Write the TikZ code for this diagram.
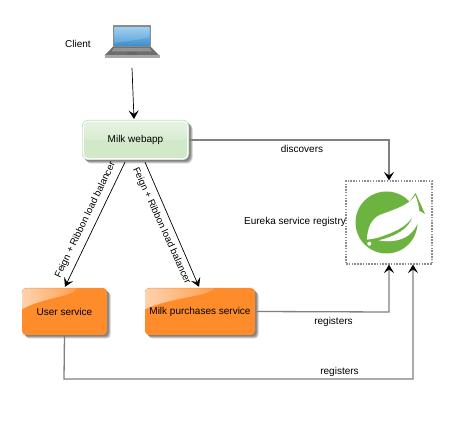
\documentclass[tikz,border=0pt]{standalone}
\usepackage{fontspec}
\setmainfont{Liberation Sans}
\usetikzlibrary{arrows.meta,calc}
\definecolor{edgegray}{HTML}{808080}
\definecolor{okline}{HTML}{C4E0BC}
\definecolor{oktop}{HTML}{E6F2E1}
\definecolor{okmid}{HTML}{D9ECD2}
\definecolor{oklow}{HTML}{D1E8C9}
\definecolor{orangefill}{HTML}{FF8C2A}
\definecolor{glosslight}{HTML}{FFD2AE}
\definecolor{glossend}{HTML}{FFA050}
\definecolor{springgreen}{HTML}{6DB33F}
\definecolor{lapgray}{HTML}{8C8C8C}
\definecolor{lapdark}{HTML}{6E6E6E}
\definecolor{scrtop}{HTML}{8CC8EE}
\definecolor{scrlow}{HTML}{3C8DCE}
\tikzset{
  lbl/.style={font=\fontsize{10}{12}\selectfont,text=black,inner sep=0pt},
  rotlbl/.style={font=\fontsize{9.7}{12}\selectfont,text=black,inner sep=0pt},
  dark/.style={draw=black,line width=0.7pt,-{Stealth[length=8.5pt,width=10pt,inset=3.5pt]}},
  grayconn/.style={draw=edgegray,line width=1.3pt,-{Stealth[length=8.5pt,width=10pt,inset=3.5pt,black]}},
  webbox/.style={minimum width=107pt,minimum height=40pt,rounded corners=6pt,inner sep=0pt,font=\fontsize{10}{12}\selectfont},
  orbox/.style={minimum height=47pt,rounded corners=4pt,inner sep=0pt,font=\fontsize{10}{12}\selectfont},
  regbox/.style={draw=black!45,dash pattern=on 1.5pt off 1.3pt,line width=1.1pt,minimum width=86pt,minimum height=83pt,inner sep=0pt},
  softshadow/.style={fill=black,fill opacity=.2,draw=none},
}
\begin{document}
\begin{tikzpicture}[x=1pt,y=-1pt]
\useasboundingbox (0,0) rectangle (469,435);
% laptop
\fill[lapgray] (112.7,25.5) rectangle (150.9,47);
\shade[top color=scrtop,bottom color=scrlow] (114.3,27.3) rectangle (149.3,46);
\fill[white,opacity=.15] (114.3,27.3) -- (149.3,27.3) -- (149.3,37) .. controls (135,41) and (125,41) .. (114.3,43) -- cycle;
\fill[lapdark] (112.7,47) -- (150.9,47) -- (159.5,55.5) -- (104.5,55.5) -- cycle;
\fill[black!35] (104.5,55.5) rectangle (159.5,58);
\fill[black!42] (114,48) -- (149.5,48) -- (152,51.5) -- (111.5,51.5) -- cycle;
\fill[black!60] (126.7,52) rectangle (136.7,55);
\coordinate (client) at (132,68);
\node[lbl] (clientlbl) at (78,44) {Client};
% shadows
\foreach \d in {1.5,2.5,3.5}{
  \fill[softshadow,rounded corners=6pt] (82+\d,120+\d) rectangle (189+\d,160+\d);
  \fill[softshadow,rounded corners=4pt] (22+\d,288+\d) rectangle (107+\d,335+\d);
  \fill[softshadow,rounded corners=4pt] (145+\d,288+\d) rectangle (255+\d,335+\d);
}
% webapp
\node[webbox,fill=okline] (web) at (135.5,140) {};
\fill[white,rounded corners=5.5pt] (82.7,120.7) rectangle (188.3,159.3);
\fill[oklow,rounded corners=4pt] (84,122) rectangle (187,158);
\shade[top color=oktop,bottom color=okmid,rounded corners=4pt] (84,122) -- (187,122) -- (187,140) -- (84,140) -- cycle;
\node[lbl] (weblbl) at (web.center) {Milk webapp};
% orange boxes
\node[orbox,minimum width=85pt,fill=orangefill] (user) at (64.5,311.5) {};
\node[orbox,minimum width=110pt,fill=orangefill] (milk) at (200,311.5) {};
\shade[left color=glosslight,right color=glossend] (22.5,292) .. controls (22.5,289.5) and (24,288.5) .. (26.5,288.5) -- (77,288.5) .. controls (72,297) and (45,297) .. (22.5,309) -- cycle;
\shade[left color=glosslight,right color=glossend] (145.5,292) .. controls (145.5,289.5) and (147,288.5) .. (149.5,288.5) -- (214,288.5) .. controls (207,297) and (172,297) .. (145.5,309) -- cycle;
\node[lbl] (userlbl) at (user.center) {User service};
\node[lbl] (milklbl) at (milk.center) {Milk purchases service};
% registry
\node[regbox] (reg) at (389,222.5) {};
% spring logo
\fill[springgreen] (386.5,222.5) circle[radius=31];
\fill[springgreen] (415.6,193) -- (425,214) -- (408,204) -- cycle;
\fill[white] (415.3,195.3) .. controls (410,204) and (398,208.5) .. (380.3,214.7)
  .. controls (372,218) and (367,228) .. (367,239.7)
  -- (377,238)
  .. controls (392,233) and (406,228) .. (412.7,216.3)
  .. controls (409,230) and (393,237) .. (378.7,240.3)
  .. controls (392,243) and (405,240) .. (412,232)
  .. controls (418,226) and (423,214) .. (415.3,195.3) -- cycle;
\fill[white] (369.3,243.7) circle[radius=2];
\node[lbl] (reglbl) at (295,222) {Eureka service registry};
% connectors
\coordinate (webtop) at (134,119);
\draw[dark] (client) -- (webtop);
\draw[dark] ($(web.south)+(-10.5,2)$) -- ($(user.north)+(0.5,-1)$);
\draw[dark] ($(web.south)+(9.5,2)$) -- ($(milk.north)+(-1,-1)$);
\draw[grayconn] (web.east) -- (389,140) -- (reg.north);
\draw[grayconn] (milk.east) -- (389,312) -- (reg.south);
\draw[grayconn] (user.south) -- (64,379) -- (413,379) -- (413,264.5);
\node[lbl] (disc) at (302,149) {discovers};
\node[lbl] (r1) at (333.5,321.5) {registers};
\node[lbl] (r2) at (339.5,372) {registers};
\node[rotlbl,rotate=64.2] (f2) at (85.5,220) {Feign + Ribbon load balancer};
\node[rotlbl,rotate=-65.5] (f3) at (161.5,226) {Feign + Ribbon load balancer};
\end{tikzpicture}
\end{document}
